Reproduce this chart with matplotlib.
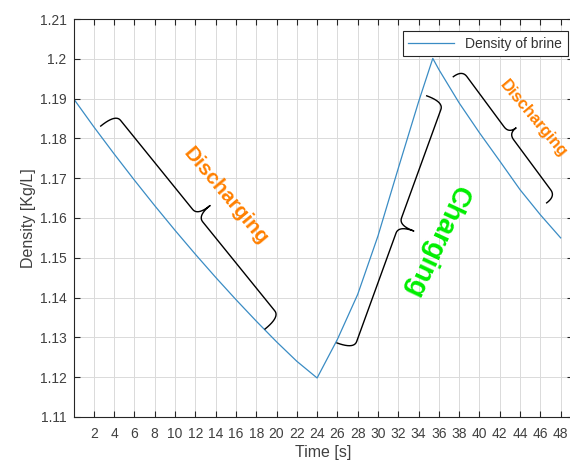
import numpy as np
import matplotlib
matplotlib.use('Agg')
import matplotlib.pyplot as plt
from matplotlib.transforms import IdentityTransform

plt.rcParams['font.family'] = ['Liberation Sans', 'DejaVu Sans']

# density of brine
time = [0, 2, 4, 6, 8, 10, 12, 14, 16, 18, 20, 22, 24,
        26, 28, 30, 32, 34, 35.4,
        36, 38, 40, 42, 44, 46, 48]
density = [1.1900, 1.1829, 1.1761, 1.1695, 1.1631, 1.1569, 1.1509, 1.1451,
           1.1395, 1.1341, 1.1289, 1.1240, 1.1198,
           1.1295, 1.1408, 1.1555, 1.1725, 1.1892, 1.2001,
           1.1973, 1.1889, 1.1814, 1.1743, 1.1671, 1.1608, 1.1550]

xticks = list(range(2, 49, 2))
yticks = [1.11, 1.12, 1.13, 1.14, 1.15, 1.16, 1.17, 1.18, 1.19, 1.20, 1.21]
ylabels = ['1.11', '1.12', '1.13', '1.14', '1.15', '1.16', '1.17', '1.18',
           '1.19', '1.2', '1.21']

# braces: (start, end, side, hook depth px, tip depth px)
braces = [((2.68, 1.1831), (18.87, 1.1321), 1, 19, 16),
          ((25.96, 1.1286), (34.80, 1.1907), -1, 18, 16),
          ((37.42, 1.1955), (46.62, 1.1638), 1, 11, 9)]

# annotations: text, position, rotation, size, colour
notes = [('Discharging', (15.0, 1.1655), -50, 15, '#ff8000'),
         ('Charging', (35.76, 1.1542), -115, 20, '#00ee00'),
         ('Discharging', (45.3, 1.1848), -50, 12, '#ff8000')]

fig = plt.figure(figsize=(5.70, 4.66), dpi=100)
# the right edge of the axes box lies just outside the picture
ax = fig.add_axes([0.129, 0.1052, 0.876, 0.854])

ax.plot(time, density, color='#3a8cc4', lw=0.9, label='Density of brine')

ax.set_xlim(0, 49.2)
ax.set_ylim(1.11, 1.21)
ax.set_xticks(xticks)
ax.set_yticks(yticks)
ax.set_yticklabels(ylabels)
ax.grid(True, color='#dadada', lw=0.7)
ax.set_axisbelow(True)
ax.tick_params(direction='in', top=True, right=True, length=4,
               labelsize=10, colors='#262626', labelcolor='#404040')
ax.tick_params(axis='x', pad=7)
ax.tick_params(axis='y', pad=5)
for s in ax.spines.values():
    s.set_color('#262626')
    s.set_linewidth(0.8)

ax.set_xlabel('Time [s]', fontsize=11.5, color='#404040', labelpad=3)
ax.set_ylabel('Density [Kg/L]', fontsize=11.5, color='#404040', labelpad=3)

leg = ax.legend(loc='upper right', bbox_to_anchor=(0.990, 0.970),
                borderaxespad=0, fontsize=10, handlelength=3.3,
                fancybox=False, framealpha=1, edgecolor='#262626')
leg.get_frame().set_linewidth(0.8)
for t in leg.get_texts():
    t.set_color('#333333')


def quad(p0, c, p1, n=12):
    s = np.linspace(0, 1, n)[:, None]
    return (1 - s) ** 2 * p0 + 2 * (1 - s) * s * c + s ** 2 * p1


def draw_brace(p1, p2, side, d1, d2):
    a = ax.transData.transform(p1)
    b = ax.transData.transform(p2)
    L = np.hypot(*(b - a))
    u = (b - a) / L
    v = side * np.array([-u[1], u[0]])
    r = 8
    h = L / 2
    pts = [quad(np.array([0, 0]), np.array([0, d1]), np.array([r, d1])),
           quad(np.array([h - r, d1]), np.array([h, d1]), np.array([h, d1 + d2])),
           quad(np.array([h, d1 + d2]), np.array([h, d1]), np.array([h + r, d1])),
           quad(np.array([L - r, d1]), np.array([L, d1]), np.array([L, 0]))]
    loc = np.vstack(pts)
    xy = a + loc[:, :1] * u + loc[:, 1:] * v
    ax.plot(xy[:, 0], xy[:, 1], color='black', lw=1.0,
            transform=IdentityTransform(), clip_on=False)


for br in braces:
    draw_brace(*br)

for txt, pos, rot, size, col in notes:
    ax.text(pos[0], pos[1], txt, rotation=rot, rotation_mode='anchor',
            ha='center', va='center', fontsize=size, fontweight='bold',
            color=col)

fig.savefig('out.png', dpi=100)
